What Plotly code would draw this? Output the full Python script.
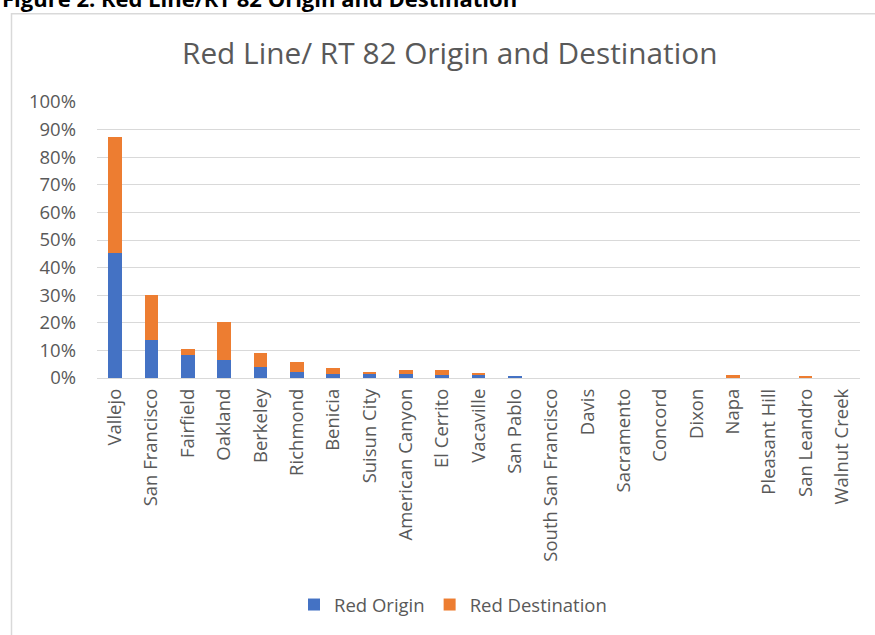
import plotly.graph_objects as go

# Cities served by the Red Line / RT 82, in chart order
cities = [
    "Vallejo", "San Francisco", "Fairfield", "Oakland", "Berkeley", "Richmond",
    "Benicia", "Suisun City", "American Canyon", "El Cerrito", "Vacaville",
    "San Pablo", "South San Francisco", "Davis", "Sacramento", "Concord",
    "Dixon", "Napa", "Pleasant Hill", "San Leandro", "Walnut Creek",
]

# Share of trips (%) starting in each city
red_origin = [45.3, 13.7, 8.4, 6.5, 4.1, 2.0, 1.6, 1.5, 1.5, 1.2, 1.3,
              0.7, 0.0, 0.0, 0.0, 0.0, 0.0, 0.0, 0.0, 0.0, 0.0]

# Share of trips (%) ending in each city
red_destination = [42.0, 16.3, 2.1, 13.9, 4.9, 3.8, 2.0, 0.5, 1.3, 1.7, 0.4,
                   0.0, 0.0, 0.0, 0.0, 0.0, 0.0, 1.1, 0.0, 0.6, 0.0]

y_ticks = [i / 10 for i in range(11)]

BLUE = "#4472C4"
ORANGE = "#ED7D31"
GREY_TEXT = "#595959"
GRID = "#D9D9D9"
FONT = "'Open Sans', sans-serif"

fig = go.Figure()
fig.add_trace(go.Bar(
    x=cities, y=[v / 100 for v in red_origin],
    name="Red Origin", marker=dict(color=BLUE, line=dict(width=0)),
))
fig.add_trace(go.Bar(
    x=cities, y=[v / 100 for v in red_destination],
    name="Red Destination", marker=dict(color=ORANGE, line=dict(width=0)),
))

W, H = 875, 635
ml, mr, mt, mb = 97, 15, 102, 256
pw, ph = W - ml - mr, H - mt - mb


def px_x(p):
    return (p - ml) / pw


def px_y(p):
    return (H - mb - p) / ph


fig.update_layout(
    width=W, height=H,
    margin=dict(l=ml, r=mr, t=mt, b=mb, pad=0),
    barmode="stack",
    bargap=0.62,
    paper_bgcolor="white",
    plot_bgcolor="white",
    font=dict(family=FONT, color=GREY_TEXT, size=16),
    showlegend=True,
    legend=dict(
        orientation="h",
        x=px_x(453), xanchor="center",
        y=px_y(605), yanchor="middle",
        font=dict(size=18.5, color=GREY_TEXT),
        itemsizing="constant",
        traceorder="normal",
    ),
    xaxis=dict(
        tickangle=-90,
        tickfont=dict(size=18.5, color=GREY_TEXT),
        showgrid=False,
        showline=False,
        ticks="",
        ticklabelstandoff=6,
    ),
    yaxis=dict(
        range=[0, 1.0],
        tickvals=y_ticks,
        tickformat=".0%",
        tickfont=dict(size=18.5, color=GREY_TEXT),
        showgrid=True,
        gridcolor=GRID,
        gridwidth=1.3,
        zeroline=True,
        zerolinecolor=GRID,
        zerolinewidth=1.3,
        showline=False,
        ticks="",
        ticklabelstandoff=20,
    ),
    annotations=[
        dict(
            text="Red Line/ RT 82 Origin and Destination",
            xref="paper", yref="paper",
            x=px_x(449), y=px_y(52),
            xanchor="center", yanchor="middle",
            showarrow=False,
            font=dict(size=29.8, color=GREY_TEXT, family=FONT),
        ),
        dict(
            text="<b>Figure 2: Red Line/RT 82 Origin and Destination</b>",
            xref="paper", yref="paper",
            x=px_x(0), y=px_y(15),
            xanchor="left", yanchor="bottom",
            showarrow=False,
            font=dict(size=22, color="#000000", family=FONT),
        ),
    ],
    shapes=[
        dict(
            type="rect", xref="paper", yref="paper",
            x0=px_x(11.5), x1=px_x(890),
            y0=px_y(650), y1=px_y(13.5),
            line=dict(color=GRID, width=1.5),
            fillcolor="rgba(0,0,0,0)",
            layer="below",
        ),
    ],
)

fig.write_html("out.html")
